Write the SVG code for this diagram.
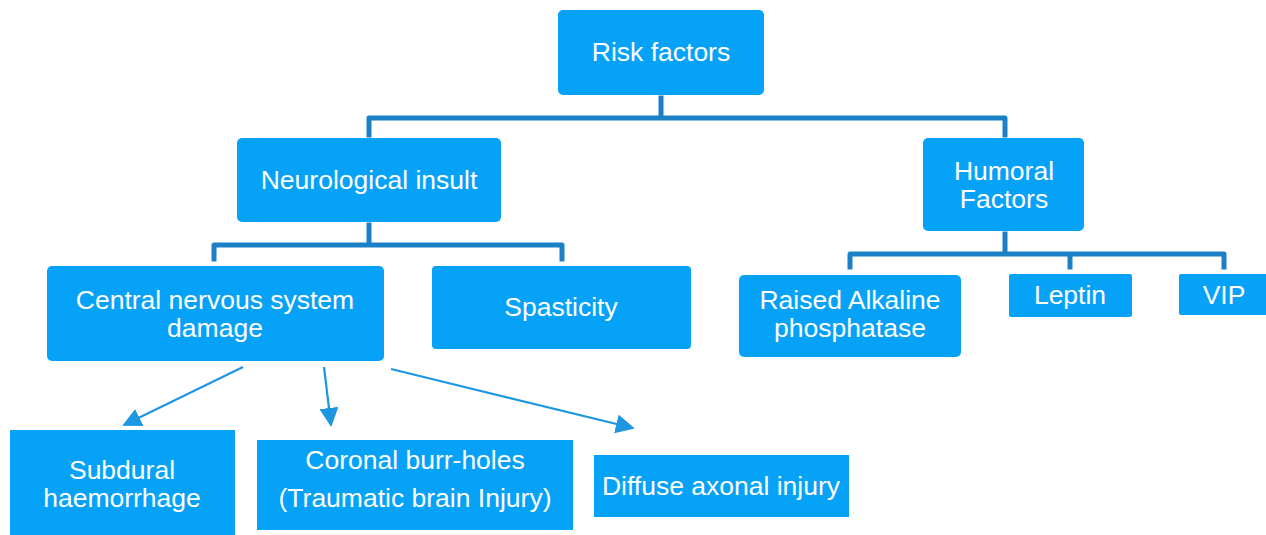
<svg xmlns="http://www.w3.org/2000/svg" width="1266" height="535" viewBox="0 0 1266 535">
<style>
.box{fill:#06A2F7}
.t{font-family:"Liberation Sans",Arial,sans-serif;font-size:26.5px;fill:#ffffff;text-anchor:middle}
.tree{fill:none;stroke:#1B80C6;stroke-width:5;stroke-linejoin:round;stroke-linecap:square}
.arr{fill:none;stroke:#1E97E2;stroke-width:2.2}
</style>
<defs>
<marker id="ah2" viewBox="0 0 10 10" refX="9" refY="5" markerWidth="19" markerHeight="19" markerUnits="userSpaceOnUse" orient="auto">
<path d="M0,0 L10,5 L0,10 z" fill="#1E97E2"/>
</marker>
</defs>
<rect width="1266" height="535" fill="#ffffff"/>
<g id="connectors">
<path class="tree" d="M661,98 V118 M369,135 V118 H1005 V135"/>
<path class="tree" d="M369,225 V245 M214,259 V245 H562 V259"/>
<path class="tree" d="M1005,234 V254 M850,267 V254 H1224 V267 M1070,254 V267"/>
<line class="arr" x1="243" y1="367" x2="124" y2="425" marker-end="url(#ah2)"/>
<line class="arr" x1="324" y1="367" x2="331" y2="425" marker-end="url(#ah2)"/>
<line class="arr" x1="391" y1="369" x2="633" y2="428" marker-end="url(#ah2)"/>
</g>
<g id="risk"><rect class="box" x="558" y="10" width="206" height="85" rx="5"/><text class="t" x="661" y="61">Risk factors</text></g>
<g id="neuro"><rect class="box" x="237" y="138" width="264" height="84" rx="5"/><text class="t" x="369" y="189">Neurological insult</text></g>
<g id="humoral"><rect class="box" x="923" y="138" width="161" height="93" rx="5"/><text class="t" x="1004" y="180">Humoral</text><text class="t" x="1004" y="208">Factors</text></g>
<g id="cns"><rect class="box" x="47" y="266" width="337" height="95" rx="5"/><text class="t" x="215" y="309">Central nervous system</text><text class="t" x="215" y="337">damage</text></g>
<g id="spasticity"><rect class="box" x="432" y="266" width="259" height="83" rx="4"/><text class="t" x="561" y="316">Spasticity</text></g>
<g id="alkaline"><rect class="box" x="739" y="275" width="222" height="82" rx="5"/><text class="t" x="850" y="309">Raised Alkaline</text><text class="t" x="850" y="337">phosphatase</text></g>
<g id="leptin"><rect class="box" x="1009" y="274" width="123" height="43" rx="2"/><text class="t" x="1070" y="304">Leptin</text></g>
<g id="vip"><rect class="box" x="1179" y="274" width="90" height="41" rx="2"/><text class="t" x="1224" y="304">VIP</text></g>
<g id="subdural"><rect class="box" x="10" y="430" width="225" height="108"/><text class="t" x="122" y="479">Subdural</text><text class="t" x="122" y="507">haemorrhage</text></g>
<g id="coronal"><rect class="box" x="257" y="440" width="316" height="90"/><text class="t" x="415" y="469">Coronal burr-holes</text><text class="t" x="415" y="507">(Traumatic brain Injury)</text></g>
<g id="diffuse"><rect class="box" x="594" y="455" width="255" height="62"/><text class="t" x="721" y="495">Diffuse axonal injury</text></g>
</svg>
